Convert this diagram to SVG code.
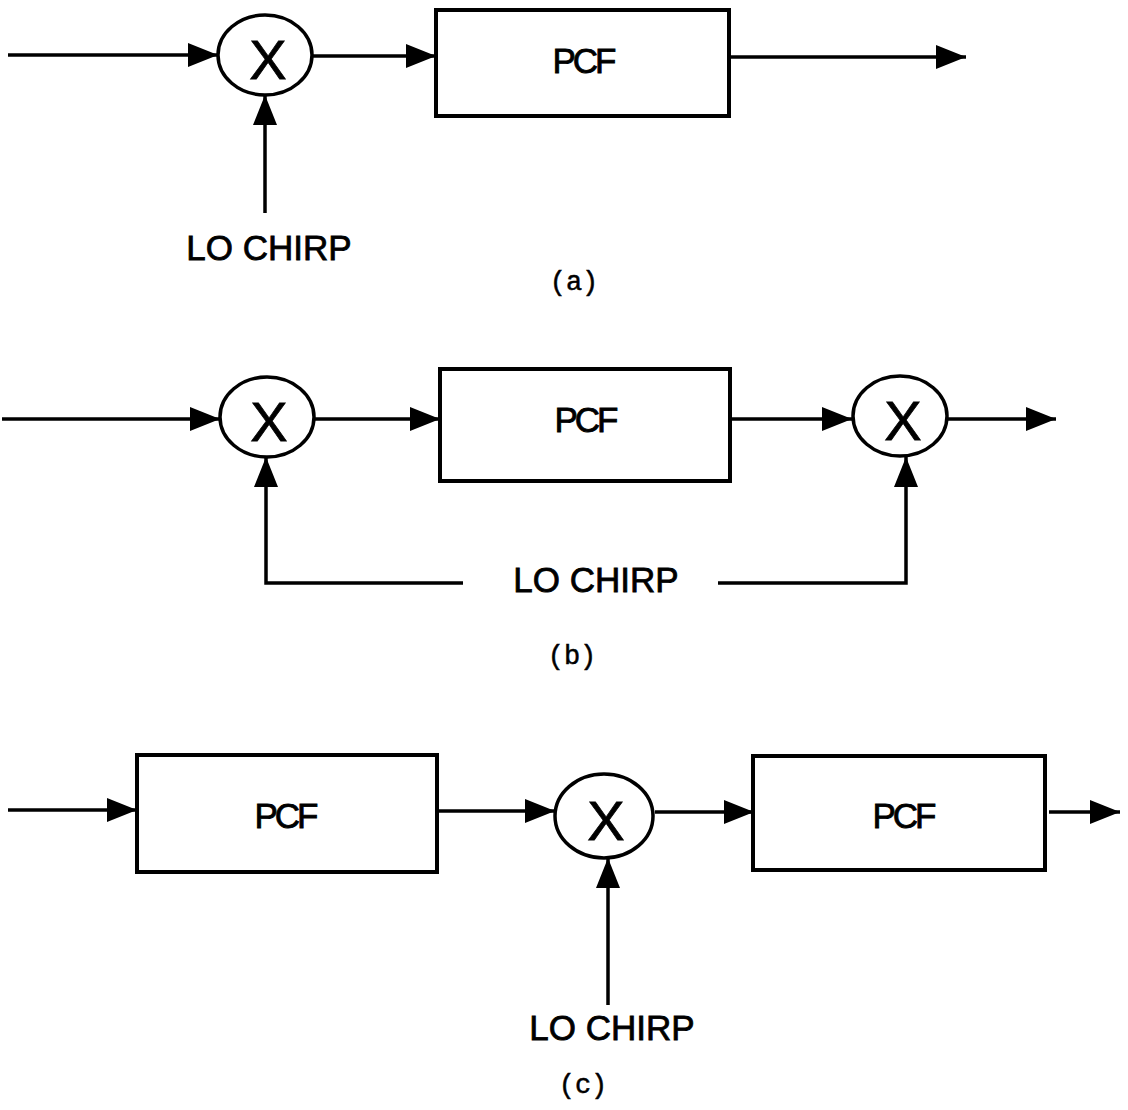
<svg xmlns="http://www.w3.org/2000/svg" width="1128" height="1110" viewBox="0 0 1128 1110">
  <defs>
    <marker id="arrow" viewBox="0 0 30 24" refX="30" refY="12" markerWidth="30" markerHeight="24" markerUnits="userSpaceOnUse" orient="auto">
      <path d="M0,0 L30,12 L0,24 Z" fill="#000"/>
    </marker>
    <style>
      .wire { fill: none; stroke: #000; stroke-width: 3.5; }
      .arr { marker-end: url(#arrow); }
      .box { fill: #fff; stroke: #000; stroke-width: 4; }
      .mix { fill: #fff; stroke: #000; stroke-width: 3.5; }
      .sans { font-family: "Liberation Sans", Arial, sans-serif; fill: #000; stroke: #000; stroke-width: 0.8; text-anchor: middle; }
      .x { font-size: 56px; }
      .pcf { font-size: 35px; letter-spacing: -3px; }
      .lo { font-size: 35px; }
      .cap { font-family: "Liberation Mono", "Courier New", monospace; font-size: 27px; fill: #000; stroke: #000; stroke-width: 0.5; text-anchor: middle; }
    </style>
  </defs>
  <rect width="1128" height="1110" fill="#fff"/>

  <!-- (a) mixer followed by one compressive filter -->
  <g id="connectors-a">
    <line class="wire arr" x1="8" y1="55" x2="218" y2="55"/>
    <line class="wire arr" x1="312" y1="56" x2="436" y2="56"/>
    <line class="wire arr" x1="729" y1="57" x2="966" y2="57"/>
    <line class="wire arr" x1="265" y1="213" x2="265" y2="95"/>
  </g>
  <g id="mixer-a">
    <ellipse class="mix" cx="265" cy="55" rx="47" ry="40"/>
    <text class="sans x" x="268" y="79">X</text>
  </g>
  <g id="pcf-a">
    <rect class="box" x="436" y="10" width="293" height="106"/>
    <text class="sans pcf" x="583" y="73">PCF</text>
  </g>
  <g id="lo-a">
    <text class="sans lo" x="269" y="260">LO CHIRP</text>
  </g>
  <text class="cap" x="574" y="290">(a)</text>

  <!-- (b) mixer, filter, mixer sharing one LO chirp -->
  <g id="connectors-b">
    <line class="wire arr" x1="2" y1="419" x2="220" y2="419"/>
    <line class="wire arr" x1="314" y1="419" x2="440" y2="419"/>
    <line class="wire arr" x1="730" y1="419" x2="852" y2="419"/>
    <line class="wire arr" x1="946" y1="419" x2="1056" y2="419"/>
    <polyline class="wire arr" points="463,583 266,583 266,457"/>
    <polyline class="wire arr" points="718,583 906,583 906,457"/>
  </g>
  <g id="mixer-b1">
    <ellipse class="mix" cx="267" cy="417" rx="47" ry="40"/>
    <text class="sans x" x="269" y="441">X</text>
  </g>
  <g id="pcf-b">
    <rect class="box" x="440" y="369" width="290" height="112"/>
    <text class="sans pcf" x="585" y="432">PCF</text>
  </g>
  <g id="mixer-b2">
    <ellipse class="mix" cx="900" cy="416" rx="47" ry="40"/>
    <text class="sans x" x="903" y="440">X</text>
  </g>
  <g id="lo-b">
    <text class="sans lo" x="596" y="592">LO CHIRP</text>
  </g>
  <text class="cap" x="572" y="664">(b)</text>

  <!-- (c) filter, mixer, filter -->
  <g id="connectors-c">
    <line class="wire arr" x1="8" y1="810" x2="137" y2="810"/>
    <line class="wire arr" x1="437" y1="811" x2="555" y2="811"/>
    <line class="wire arr" x1="655" y1="812" x2="754" y2="812"/>
    <line class="wire arr" x1="1049" y1="812" x2="1120" y2="812"/>
    <line class="wire arr" x1="608" y1="1005" x2="608" y2="858"/>
  </g>
  <g id="pcf-c1">
    <rect class="box" x="137" y="755" width="300" height="117"/>
    <text class="sans pcf" x="285" y="828">PCF</text>
  </g>
  <g id="mixer-c">
    <ellipse class="mix" cx="604" cy="816" rx="49" ry="42"/>
    <text class="sans x" x="606" y="840">X</text>
  </g>
  <g id="pcf-c2">
    <rect class="box" x="753" y="756" width="292" height="114"/>
    <text class="sans pcf" x="903" y="828">PCF</text>
  </g>
  <g id="lo-c">
    <text class="sans lo" x="612" y="1040">LO CHIRP</text>
  </g>
  <text class="cap" x="583" y="1093">(c)</text>
</svg>
